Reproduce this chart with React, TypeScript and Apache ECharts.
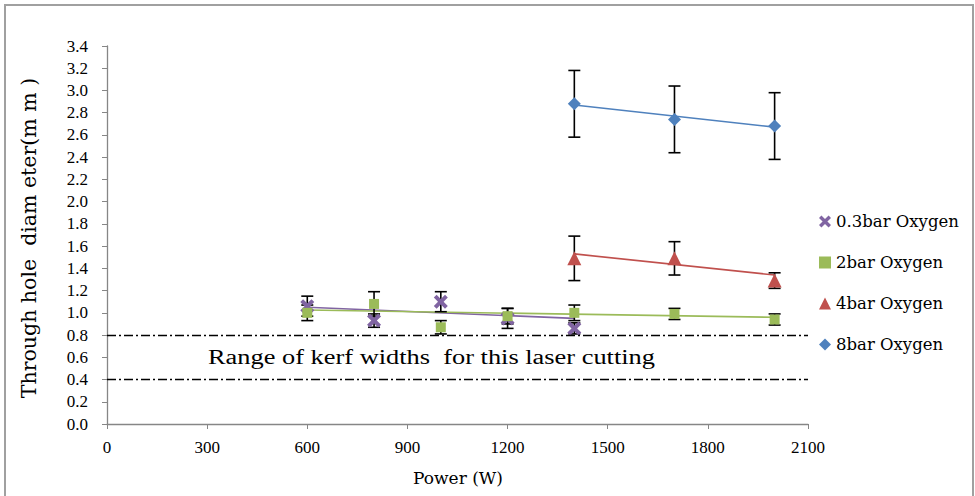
import React, { useEffect, useRef } from "react";
import * as echarts from "echarts";

const xTicks = [0, 300, 600, 900, 1200, 1500, 1800, 2100];
const yTicks = [0, 0.2, 0.4, 0.6, 0.8, 1.0, 1.2, 1.4, 1.6, 1.8, 2.0, 2.2, 2.4, 2.6, 2.8, 3.0, 3.2, 3.4];

const power03 = [600, 800, 1000, 1200, 1400];
const dia03 = [1.06, 0.93, 1.1, 0.95, 0.86];
const err03 = [0.09, 0.06, 0.09, 0.09, 0.05];

const power2 = [600, 800, 1000, 1200, 1400, 1700, 2000];
const dia2 = [1.0, 1.08, 0.87, 0.97, 1.0, 0.99, 0.94];
const err2 = [0.07, 0.11, 0.06, 0.07, 0.07, 0.05, 0.05];

const power4 = [1400, 1700, 2000];
const dia4 = [1.49, 1.49, 1.29];
const err4 = [0.2, 0.15, 0.07];

const power8 = [1400, 1700, 2000];
const dia8 = [2.88, 2.74, 2.68];
const err8 = [0.3, 0.3, 0.3];

// trendline end points
const trend03 = [[600, 1.05], [1400, 0.95]];
const trend2 = [[600, 1.025], [2000, 0.96]];
const trend4 = [[1400, 1.53], [2000, 1.34]];
const trend8 = [[1400, 2.87], [2000, 2.67]];

const kerfBounds = [0.8, 0.4];
const kerfText = "Range of kerf widths  for this laser cutting";
const xTitle = "Power (W)";
const yTitle = "Through hole  diam eter(m m )";

const names = ["0.3bar Oxygen", "2bar Oxygen", "4bar Oxygen", "8bar Oxygen"];
const colors = ["#8064A2", "#9BBB59", "#C0504D", "#4F81BD"];

const X_SYMBOL =
  "path://M2,0 L5,3 L8,0 L10,2 L7,5 L10,8 L8,10 L5,7 L2,10 L0,8 L3,5 L0,2 Z";

const SERIF = "Liberation Serif";
const WIDE = "DejaVu Serif";

function pts(xs: number[], ys: number[]) {
  return xs.map((x, i) => [x, ys[i]]);
}
function errs(xs: number[], ys: number[], es: number[]) {
  return xs.map((x, i) => [x, ys[i] - es[i], ys[i] + es[i]]);
}

export default function App() {
  const ref = useRef<HTMLDivElement>(null);
  useEffect(() => {
    if (!ref.current) return;
    const chart = echarts.init(ref.current, undefined, { renderer: "svg" });

    const errorSeries = (data: number[][]) => ({
      type: "custom",
      z: 3,
      silent: true,
      encode: { x: 0, y: [1, 2] },
      renderItem: (params: any, api: any) => {
        const x = api.value(0);
        const lo = api.coord([x, api.value(1)]);
        const hi = api.coord([x, api.value(2)]);
        const w = 6;
        const style = { stroke: "#000", lineWidth: 1.6 };
        return {
          type: "group",
          children: [
            { type: "line", shape: { x1: lo[0], y1: lo[1], x2: hi[0], y2: hi[1] }, style },
            { type: "line", shape: { x1: lo[0] - w, y1: lo[1], x2: lo[0] + w, y2: lo[1] }, style },
            { type: "line", shape: { x1: hi[0] - w, y1: hi[1], x2: hi[0] + w, y2: hi[1] }, style },
          ],
        };
      },
      data,
    });

    const trendSeries = (data: number[][], color: string) => ({
      type: "line",
      z: 2,
      silent: true,
      symbol: "none",
      lineStyle: { color, width: 1.6 },
      data,
    });

    const symbols = [X_SYMBOL, "rect", "triangle", "diamond"];
    const sizes = [14, 10, 14, 13];
    const ptData = [
      pts(power03, dia03),
      pts(power2, dia2),
      pts(power4, dia4),
      pts(power8, dia8),
    ];

    const scatterSeries = names.map((name, i) => ({
      name,
      type: "scatter",
      z: 4 + i,
      symbol: symbols[i],
      symbolSize: sizes[i],
      itemStyle: { color: colors[i], opacity: 1 },
      data: ptData[i],
    }));

    const baseGraphic: any[] = [
      {
        id: "border",
        type: "rect",
        shape: { x: 5, y: 5, width: 968, height: 500 },
        style: { fill: "none", stroke: "#a0a0a0", lineWidth: 2 },
        silent: true,
      },
      {
        id: "kerf",
        type: "text",
        x: 208,
        y: 357,
        scaleX: 1.32,
        style: {
          text: kerfText,
          fontFamily: SERIF,
          fontSize: 20,
          fill: "#000",
          textVerticalAlign: "middle",
        },
        silent: true,
      },
      {
        id: "xtitle",
        type: "text",
        x: 458,
        y: 478,
        style: {
          text: xTitle,
          fontFamily: WIDE,
          fontSize: 17,
          fill: "#000",
          textAlign: "center",
          textVerticalAlign: "middle",
        },
        silent: true,
      },
      {
        id: "ytitle",
        type: "text",
        x: 29,
        y: 238,
        rotation: Math.PI / 2,
        style: {
          text: yTitle,
          fontFamily: WIDE,
          fontSize: 20.5,
          fill: "#000",
          textAlign: "center",
          textVerticalAlign: "middle",
        },
        silent: true,
      },
    ];

    chart.setOption({
      animation: false,
      backgroundColor: "#fff",
      grid: { left: 107, right: 167, top: 46, bottom: 72 },
      xAxis: {
        type: "value",
        min: 0,
        max: 2100,
        interval: 300,
        axisLine: { lineStyle: { color: "#868686", width: 1.3 } },
        axisTick: { show: true, length: 5, lineStyle: { color: "#868686" } },
        axisLabel: { show: false },
        splitLine: { show: false },
      },
      yAxis: {
        type: "value",
        min: 0,
        max: 3.4,
        interval: 0.2,
        axisLine: { show: true, lineStyle: { color: "#868686", width: 1.3 } },
        axisTick: { show: true, length: 5, lineStyle: { color: "#868686" } },
        axisLabel: { show: false },
        splitLine: { show: false },
      },
      legend: {
        orient: "vertical",
        left: 814,
        top: 208,
        itemGap: 24,
        itemWidth: 12,
        itemHeight: 12,
        textStyle: { fontFamily: WIDE, fontSize: 16.5, color: "#000" },
        data: names.map((n, i) => ({ name: n, icon: symbols[i] })),
      },
      graphic: baseGraphic,
      series: [
        {
          type: "line",
          data: [],
          silent: true,
          markLine: {
            silent: true,
            symbol: "none",
            label: { show: false },
            lineStyle: { color: "#000", width: 1.4, type: [9, 3, 2, 3] },
            data: kerfBounds.map((v) => ({ yAxis: v })),
          },
        },
        trendSeries(trend03, colors[0]),
        trendSeries(trend2, colors[1]),
        trendSeries(trend4, colors[2]),
        trendSeries(trend8, colors[3]),
        errorSeries(errs(power03, dia03, err03)),
        errorSeries(errs(power2, dia2, err2)),
        errorSeries(errs(power4, dia4, err4)),
        errorSeries(errs(power8, dia8, err8)),
        ...scatterSeries,
      ],
    });

    // tick labels placed through the axes' own scales
    const axisY = chart.convertToPixel({ yAxisIndex: 0 }, 0) as number;
    const axisX = chart.convertToPixel({ xAxisIndex: 0 }, 0) as number;
    const xLabelEls = xTicks.map((v, i) => ({
      id: "xl" + i,
      type: "text",
      x: chart.convertToPixel({ xAxisIndex: 0 }, v) as number,
      y: axisY + 23,
      silent: true,
      style: {
        text: String(v),
        fontFamily: SERIF,
        fontSize: 17,
        fill: "#000",
        textAlign: "center",
        textVerticalAlign: "middle",
      },
    }));
    const yLabelEls = yTicks.map((v, i) => ({
      id: "yl" + i,
      type: "text",
      x: axisX - 19,
      y: chart.convertToPixel({ yAxisIndex: 0 }, v) as number,
      silent: true,
      style: {
        text: v.toFixed(1),
        fontFamily: SERIF,
        fontSize: 17,
        fill: "#000",
        textAlign: "right",
        textVerticalAlign: "middle",
      },
    }));
    chart.setOption({ graphic: [...baseGraphic, ...xLabelEls, ...yLabelEls] });

    return () => chart.dispose();
  }, []);
  return <div ref={ref} style={{ width: 975, height: 496, position: "absolute", left: 0, top: 0 }} />;
}
